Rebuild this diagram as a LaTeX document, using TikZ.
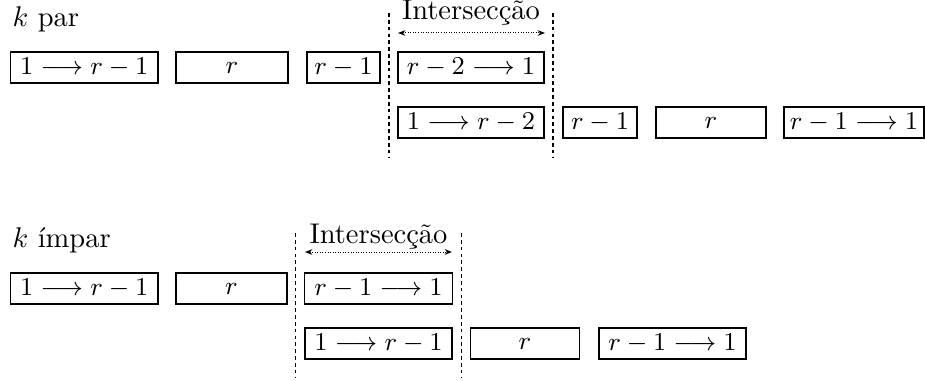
\documentclass[tikz,border=0pt]{standalone}
\usetikzlibrary{arrows.meta}
\begin{document}
\begin{tikzpicture}[x=0.351pt,y=-0.351pt,
  cell/.style={draw,line width=0.45pt,minimum height=10.9pt,inner sep=0pt,
    font=\fontsize{9.5}{11}\selectfont},
  sepline/.style={dash pattern=on 1.3pt off 1.1pt,line width=0.4pt},
  spanarrow/.style={line width=0.35pt,dash pattern=on 0.3pt off 0.6pt,
    {Stealth[length=2.6pt,width=2pt]}-{Stealth[length=2.6pt,width=2pt]}},
  lbl/.style={anchor=base west,inner sep=0pt},
  ttl/.style={anchor=base,inner sep=0pt}]
\useasboundingbox (0,0) rectangle (925,381);

% ---------- k par ----------
\node[lbl] (kpar) at (12,27) {$k$ par};
\node[ttl] (tpar) at (471,20) {Intersecção};
\coordinate (pa1) at (398,33);
\coordinate (pa2) at (545,33);
\draw[spanarrow] (pa1) -- (pa2);

\coordinate (ps1t) at (389,13);  \coordinate (ps1b) at (389,157);
\coordinate (ps2t) at (553,13);  \coordinate (ps2b) at (553,157);
\draw[sepline] (ps1t) -- (ps1b);
\draw[sepline] (ps2t) -- (ps2b);

\node[cell,minimum width=147.5*0.351pt] (a1) at (84.25,67.5) {$1 \longrightarrow r-1$};
\node[cell,minimum width=112*0.351pt]   (a2) at (232,67.5) {$r$};
\node[cell,minimum width=73*0.351pt]    (a3) at (343.5,67.5) {$r-1$};
\node[cell,minimum width=146*0.351pt]   (a4) at (471,67.5) {$r-2 \longrightarrow 1$};

\node[cell,minimum width=146*0.351pt]   (b1) at (471,122.5) {$1 \longrightarrow r-2$};
\node[cell,minimum width=74*0.351pt]    (b2) at (600,122.5) {$r-1$};
\node[cell,minimum width=110*0.351pt]   (b3) at (711,122.5) {$r$};
\node[cell,minimum width=140*0.351pt]   (b4) at (854,122.5) {$r-1 \longrightarrow 1$};

% ---------- k impar ----------
\node[lbl] (kimp) at (12,247) {$k$ ímpar};
\node[ttl] (timp) at (378.5,243) {Intersecção};
\coordinate (ia1) at (305,252);
\coordinate (ia2) at (452,252);
\draw[spanarrow] (ia1) -- (ia2);

\coordinate (is1t) at (295.5,233);  \coordinate (is1b) at (295.5,378);
\coordinate (is2t) at (461.5,233);  \coordinate (is2b) at (461.5,378);
\draw[sepline] (is1t) -- (is1b);
\draw[sepline] (is2t) -- (is2b);

\node[cell,minimum width=147.5*0.351pt] (c1) at (84.25,288.5) {$1 \longrightarrow r-1$};
\node[cell,minimum width=111*0.351pt]   (c2) at (231.5,288.5) {$r$};
\node[cell,minimum width=148*0.351pt]   (c3) at (378.5,288.5) {$r-1 \longrightarrow 1$};

\node[cell,minimum width=147*0.351pt]   (d1) at (378.5,343.5) {$1 \longrightarrow r-1$};
\node[cell,minimum width=109*0.351pt]   (d2) at (525,343.5) {$r$};
\node[cell,minimum width=147*0.351pt]   (d3) at (672.5,343.5) {$r-1 \longrightarrow 1$};
\end{tikzpicture}
\end{document}
